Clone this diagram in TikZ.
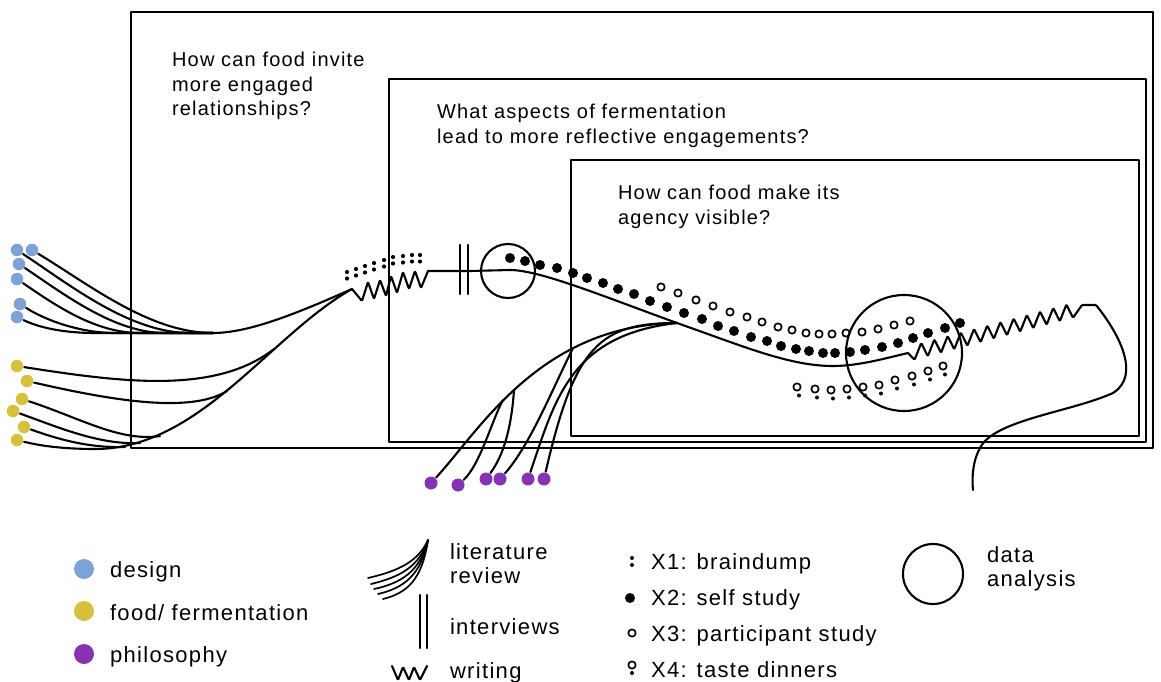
\documentclass[tikz,border=0pt]{standalone}
\usepackage{fontspec}
\setmainfont{Liberation Sans}
\newfontfamily\qfont[LetterSpace=6]{Liberation Sans}
\definecolor{designblue}{RGB}{126,161,216}
\definecolor{foodyellow}{RGB}{217,192,58}
\definecolor{philopurple}{RGB}{133,50,180}
\begin{document}
\begin{tikzpicture}[x=1pt,y=-1pt,line width=2.1pt,line join=round,line cap=round,
  frame/.style={draw,line width=2.1pt},
  qtext/.style={anchor=north west,inner sep=0pt,align=left,font=\qfont\fontsize{20}{24.5}\selectfont},
  ltext/.style={anchor=base west,inner sep=0pt,font=\qfont\fontsize{22}{22}\selectfont},
  lmulti/.style={anchor=north west,inner sep=0pt,align=left,font=\qfont\fontsize{22}{23.5}\selectfont},
  srcdot/.style={circle,inner sep=0pt,minimum size=12.5pt},
  bdot/.style={srcdot,fill=designblue},
  ydot/.style={srcdot,fill=foodyellow},
  pdot/.style={srcdot,minimum size=13pt,fill=philopurple},
  keydot/.style={circle,inner sep=0pt,minimum size=20pt},
  selfdot/.style={circle,inner sep=0pt,minimum size=10pt,fill=black},
  partdot/.style={circle,inner sep=0pt,minimum size=7.4pt,draw,line width=1.7pt},
  tinydot/.style={circle,inner sep=0pt,minimum size=4pt,fill=black},
  analysis/.style={circle,draw,inner sep=0pt,line width=2.1pt},
  thin/.style={line width=1.7pt}]
\useasboundingbox (0,0) rectangle (1161,682);

% nested research question frames
\draw[frame] (131,12) rectangle (1153,448);
\draw[frame] (389,79) rectangle (1146,442);
\draw[frame] (571,160) rectangle (1139,436);

\node[qtext] (q1) at (171,51) {How can food invite\\more engaged\\relationships?};
\node[qtext] (q2) at (436,103) {What aspects of fermentation\\lead to more reflective engagements?};
\node[qtext] (q3) at (617,184) {How can food make its\\agency visible?};

% source dots
\node[bdot] (b1) at (32,250) {};
\node[bdot] (b2) at (17,250) {};
\node[bdot] (b3) at (19,264) {};
\node[bdot] (b4) at (17,279) {};
\node[bdot] (b5) at (20,304) {};
\node[bdot] (b6) at (17,317) {};
\node[ydot] (y1) at (17,366) {};
\node[ydot] (y2) at (27,381) {};
\node[ydot] (y3) at (22,399) {};
\node[ydot] (y4) at (13,411) {};
\node[ydot] (y5) at (24,427) {};
\node[ydot] (y6) at (17,440) {};
\node[pdot] (p1) at (431,483) {};
\node[pdot] (p2) at (458,485) {};
\node[pdot] (p3) at (486,479) {};
\node[pdot] (p4) at (500,479) {};
\node[pdot] (p5) at (528,479) {};
\node[pdot] (p6) at (544,479) {};

% junctions on the main line
\coordinate (bj) at (213,333);
\coordinate (yj) at (95,449);
\coordinate (wstart) at (352,289);
\coordinate (wend) at (428,271);
\coordinate (lj) at (677,323);
\coordinate (zstart) at (908,353);
\coordinate (zend) at (1082,305);

% design strands
\draw (b1) .. controls (90,285) and (150,333) .. (bj);
\draw (b2) .. controls (70,285) and (130,333) .. (190,333) -- (bj);
\draw (b3) .. controls (65,295) and (115,333) .. (165,333) -- (bj);
\draw (b4) .. controls (55,305) and (95,333) .. (140,333) -- (bj);
\draw (b5) .. controls (45,320) and (80,333) .. (115,333) -- (bj);
\draw (b6) .. controls (40,328) and (65,333) .. (95,333) -- (bj);
\draw (bj) .. controls (250,333) and (300,312) .. (wstart);

% food strands
\draw (yj) .. controls (200,449) and (270,335) .. (wstart);
\draw (y1) .. controls (120,382) and (215,395) .. (274,349);
\draw (y2) .. controls (110,400) and (190,414) .. (227,391);
\draw (y3) .. controls (80,418) and (120,442) .. (160,436);
\draw (y4) .. controls (60,428) and (100,445) .. (140,443);
\draw (y5) .. controls (60,440) and (90,448) .. (125,447);
\draw (y6) .. controls (45,447) and (70,449) .. (yj);

% philosophy strands
\draw (p1) .. controls (480,430) and (540,325) .. (lj);
\draw (p2) .. controls (480,465) and (492,420) .. (503,400);
\draw (p3) .. controls (506,452) and (512,420) .. (514,390);
\draw (p4) .. controls (530,445) and (552,390) .. (573,348);
\draw (p5) .. controls (555,400) and (570,335) .. (lj);
\draw (p6) .. controls (575,345) and (600,323) .. (lj);

% writing, interviews and the main line
\draw[rounded corners=1pt] (wstart) -- (362,301) -- (368,282) -- (374,299) -- (380,280)
  -- (386,296) -- (391,276) -- (397,293) -- (403,272) -- (409,289) -- (415,271)
  -- (421,288) -- (wend);
\draw (wend) -- (470,271) -- (510,270) .. controls (540,270) and (605,297) .. (lj)
  .. controls (745,347) and (790,366) .. (833,366)
  .. controls (860,366) and (890,357) .. (zstart);
\draw[rounded corners=1pt] (zstart)
  \foreach \k in {1,...,25} { -- ({908+\k*6.6},{354-\k*1.75+7.5*(2*mod(\k,2)-1)}) }
  -- (zend) -- (1096,305) .. controls (1120,335) and (1140,375) .. (1113,393)
  .. controls (1070,412) and (995,420) .. (980,448)
  .. controls (972,463) and (972,480) .. (973,490);
\draw (460,245) -- (460,294);
\draw (468,245) -- (468,294);

% data analysis circles
\node[analysis,minimum size=54pt] (da1) at (508,271) {};
\node[analysis,minimum size=116pt] (da2) at (904,353) {};

% X1 braindump
\foreach \x/\y in {347/272,356/269,365/266,374/263,384/260,393/257,403/256,412/255,420/255}
  \fill (\x,\y) circle (2.1pt) (\x,\y+6.5) circle (2.1pt);

% X2 self study
\foreach \x/\y in {510/258,525/261,540/265,557/268,573/273,587/278,603/283,618/289,634/294,
  650/301,667/307,684/313,702/319,718/326,734/331,751/337,767/341,781/346,796/349,809/351,
  823/353,835/353,850/352,865/350,882/347,898/343,913/338,928/333,945/328,960/323}
  \node[selfdot] at (\x,\y) {};

% X3 participant study
\foreach \x/\y in {661/287,678/293,696/300,713/306,730/312,747/317,762/322,778/327,792/330,
  806/333,819/334,832/334,846/333,862/332,878/329,894/325,910/321}
  \node[partdot] at (\x,\y) {};

% X4 taste dinners
\foreach \x/\y in {797/387,815/389,831/390,847/389,863/387,879/385,895/380,912/376,928/371,943/366}
  {\node[partdot] at (\x,\y) {}; \node[tinydot] at (\x+2,\y+8.5) {};}

% key: sources
\node[keydot,fill=designblue] (kd) at (84,569) {};
\node[keydot,fill=foodyellow] (kf) at (84,611) {};
\node[keydot,fill=philopurple] (kp) at (84,654) {};
\node[ltext] (kdt) at (109,577) {design};
\node[ltext] (kft) at (109,620) {food/ fermentation};
\node[ltext] (kpt) at (109,662) {philosophy};

% key: methods
\coordinate (lr) at (428,540);
\draw[thin] (368,578) .. controls (398,571) and (418,562) .. (lr);
\draw[thin] (371,584) .. controls (400,577) and (419,567) .. (lr);
\draw[thin] (374,589) .. controls (402,583) and (420,571) .. (lr);
\draw[thin] (378,594) .. controls (404,588) and (421,575) .. (lr);
\draw[thin] (383,599) .. controls (407,593) and (422,580) .. (lr);
\node[lmulti] (klr) at (449,543) {literature\\review};
\draw (420,595) -- (420,648);
\draw (427,595) -- (427,648);
\node[ltext] (kin) at (449,634) {interviews};
\draw[rounded corners=1pt] (392,666) -- (398,680) -- (403,667) -- (409,680) -- (414,667) -- (420,680) -- (427,666);
\node[ltext] (kwr) at (449,678) {writing};

% key: studies
\node[tinydot] at (632,558) {};
\node[tinydot] at (632,565) {};
\node[ltext] (kx1) at (650,569) {X1: braindump};
\node[selfdot] at (630,598) {};
\node[ltext] (kx2) at (650,605) {X2: self study};
\node[partdot] at (632,633) {};
\node[ltext] (kx3) at (650,641) {X3: participant study};
\node[partdot] at (632,665) {};
\node[tinydot] at (632,673) {};
\node[ltext] (kx4) at (650,677) {X4: taste dinners};

% key: analysis
\node[analysis,minimum size=60pt] (kda) at (933,574) {};
\node[lmulti] (kdat) at (986,546) {data\\analysis};
\end{tikzpicture}
\end{document}
